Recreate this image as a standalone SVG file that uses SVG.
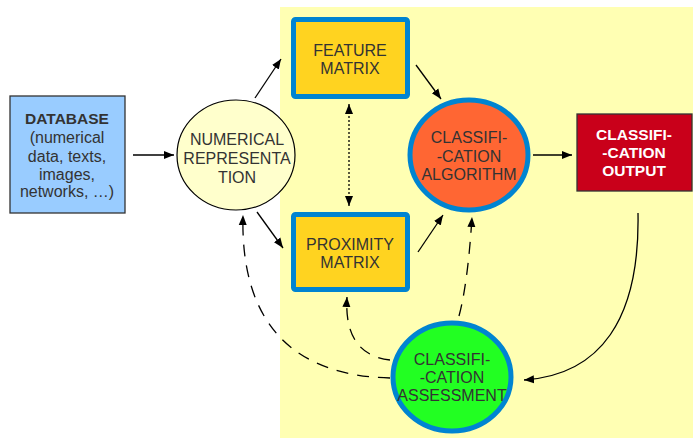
<svg xmlns="http://www.w3.org/2000/svg" width="693" height="438" viewBox="0 0 693 438">
<defs>
<style>
.t{font-family:"Liberation Sans",Arial,sans-serif;font-size:16px;fill:#333333;text-anchor:middle}
.b{font-weight:bold}
.w{fill:#ffffff}
.mx{fill:#ffd320;stroke:#0084d1;stroke-width:5}
.el{stroke:#0084d1;stroke-width:5}
.c{fill:none;stroke:#000;stroke-width:1.3}
.d{stroke-dasharray:12 9}
.dot{stroke-dasharray:2 2}
</style>
<marker id="ah" viewBox="0 0 10 10" refX="10" refY="5" markerWidth="10" markerHeight="10" markerUnits="userSpaceOnUse" orient="auto">
<path d="M0,1 L10,5 L0,9 Z" fill="#000"/>
</marker>
<marker id="as" viewBox="0 0 10 10" refX="0" refY="5" markerWidth="10" markerHeight="10" markerUnits="userSpaceOnUse" orient="auto">
<path d="M10,1 L0,5 L10,9 Z" fill="#000"/>
</marker>
</defs>
<rect x="0" y="0" width="693" height="438" fill="#ffffff"/>
<rect x="280" y="7" width="413" height="431" fill="#ffffb3"/>

<g id="connectors">
<line class="c" x1="133" y1="155" x2="174" y2="155" marker-end="url(#ah)"/>
<line class="c" x1="255" y1="98" x2="281" y2="59" marker-end="url(#ah)"/>
<line class="c" x1="416" y1="65" x2="441" y2="99" marker-end="url(#ah)"/>
<line class="c" x1="257" y1="212" x2="283" y2="248" marker-end="url(#ah)"/>
<line class="c" x1="418" y1="252" x2="443" y2="215" marker-end="url(#ah)"/>
<line class="c" x1="533" y1="155" x2="572" y2="155" marker-end="url(#ah)"/>
<path class="c" d="M638,213 C640,320 600,375 524,380" marker-end="url(#ah)"/>
<line class="c dot" x1="349" y1="104" x2="349" y2="206" marker-start="url(#as)" marker-end="url(#ah)"/>
<path class="c d" d="M459,316 C466,290 470,250 472,217" marker-end="url(#ah)"/>
<path class="c d" d="M390,360 C355,356 345,330 347,297" marker-end="url(#ah)"/>
<path class="c d" d="M390,378 C300,376 240,330 243,215" marker-end="url(#ah)"/>
</g>

<g id="database">
<rect x="10" y="96" width="115" height="117" fill="#99ccff" stroke="#333333" stroke-width="1.3"/>
<text class="t b" x="67" y="124" style="font-size:15.5px">DATABASE</text>
<text class="t" x="67" y="143">(numerical</text>
<text class="t" x="67" y="162">data, texts,</text>
<text class="t" x="67" y="180">images,</text>
<text class="t" x="67" y="197">networks, …)</text>
</g>

<g id="numerical">
<ellipse cx="236" cy="155" rx="59" ry="55" fill="#ffffcc" stroke="#000" stroke-width="1.2"/>
<text class="t" x="237" y="145">NUMERICAL</text>
<text class="t" x="237" y="164">REPRESENTA</text>
<text class="t" x="237" y="183">TION</text>
</g>

<g id="feature">
<rect class="mx" x="293.5" y="19.5" width="114" height="77" rx="2"/>
<text class="t" x="350" y="56">FEATURE</text>
<text class="t" x="350" y="74">MATRIX</text>
</g>

<g id="proximity">
<rect class="mx" x="293.5" y="214.5" width="114" height="75" rx="2"/>
<text class="t" x="350" y="250">PROXIMITY</text>
<text class="t" x="350" y="268">MATRIX</text>
</g>

<g id="algorithm">
<ellipse class="el" cx="469" cy="155" rx="59" ry="55" fill="#ff6633"/>
<text class="t" x="469" y="143">CLASSIFI-</text>
<text class="t" x="469" y="162">-CATION</text>
<text class="t" x="469" y="180">ALGORITHM</text>
</g>

<g id="output">
<rect x="577" y="114" width="115" height="77" fill="#c9001a" stroke="#333333" stroke-width="1.3"/>
<text class="t b w" x="634" y="140" style="font-size:15.5px">CLASSIFI-</text>
<text class="t b w" x="634" y="158" style="font-size:15.5px">-CATION</text>
<text class="t b w" x="634" y="176" style="font-size:15.5px">OUTPUT</text>
</g>

<g id="assessment">
<ellipse class="el" cx="452" cy="377" rx="59" ry="54" fill="#22ff22"/>
<text class="t" x="452" y="365">CLASSIFI-</text>
<text class="t" x="452" y="383">-CATION</text>
<text class="t" x="452" y="401">ASSESSMENT</text>
</g>
</svg>
